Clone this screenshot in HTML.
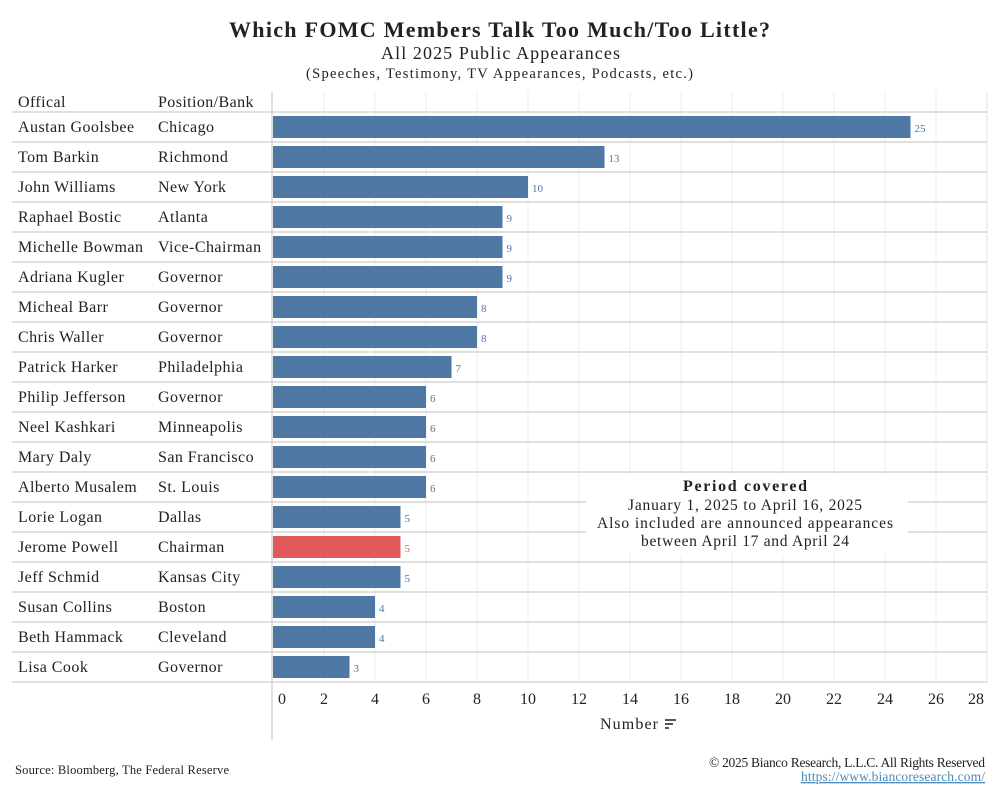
<!DOCTYPE html>
<html><head><meta charset="utf-8">
<style>
html,body{margin:0;padding:0;background:#fff;}
body{width:1000px;height:800px;overflow:hidden;font-family:"Liberation Serif",serif;color:#222;}
svg text{font-family:"Liberation Serif",serif;}
</style></head>
<body>
<svg id="chart" width="1000" height="800" viewBox="0 0 1000 800" xmlns="http://www.w3.org/2000/svg">
  <text x="229" y="37" font-size="22" font-weight="bold" fill="#222" textLength="541" lengthAdjust="spacing">Which FOMC Members Talk Too Much/Too Little?</text>
  <text x="381" y="59" font-size="18" fill="#222" textLength="239" lengthAdjust="spacing">All 2025 Public Appearances</text>
  <text x="306" y="78" font-size="14.5" fill="#222" textLength="387" lengthAdjust="spacing">(Speeches, Testimony, TV Appearances, Podcasts, etc.)</text>
  <text x="18" y="107" font-size="16" letter-spacing="0.4" fill="#222">Offical</text>
  <text x="158" y="107" font-size="16" letter-spacing="0.4" fill="#222">Position/Bank</text>
  <g id="grid"></g>
  <g id="rows"></g>
  <g id="bars"></g>
  <g id="xaxis"></g>
  <g>
    <rect x="586" y="474" width="322" height="80" fill="#fff"/>
    <text x="683" y="491" font-size="16" font-weight="bold" fill="#222" textLength="124" lengthAdjust="spacing">Period covered</text>
    <text x="628" y="510" font-size="15.5" fill="#222" textLength="234" lengthAdjust="spacing">January 1, 2025 to April 16, 2025</text>
    <text x="597" y="528" font-size="15.5" fill="#222" textLength="296" lengthAdjust="spacing">Also included are announced appearances</text>
    <text x="641" y="546" font-size="15.5" fill="#222" textLength="208" lengthAdjust="spacing">between April 17 and April 24</text>
  </g>
  <text x="600" y="729" font-size="16" fill="#222" textLength="58" lengthAdjust="spacing">Number</text>
  <g fill="#555">
    <rect x="665" y="719" width="11" height="2"/><rect x="665" y="723" width="8" height="2"/><rect x="665" y="727" width="4" height="2"/>
  </g>
  <text x="15" y="774" font-size="12.5" fill="#222" textLength="214" lengthAdjust="spacing">Source: Bloomberg, The Federal Reserve</text>
  <text x="709" y="767" font-size="13.5" fill="#222" textLength="276" lengthAdjust="spacing">© 2025 Bianco Research, L.L.C. All Rights Reserved</text>
  <text x="801" y="781" font-size="13.5" fill="#4a8ab8" text-decoration="underline" textLength="184" lengthAdjust="spacing">https://www.biancoresearch.com/</text>
</svg>
<script>
const officials = ["Austan Goolsbee","Tom Barkin","John Williams","Raphael Bostic","Michelle Bowman","Adriana Kugler","Micheal Barr","Chris Waller","Patrick Harker","Philip Jefferson","Neel Kashkari","Mary Daly","Alberto Musalem","Lorie Logan","Jerome Powell","Jeff Schmid","Susan Collins","Beth Hammack","Lisa Cook"];
const positions = ["Chicago","Richmond","New York","Atlanta","Vice-Chairman","Governor","Governor","Governor","Philadelphia","Governor","Minneapolis","San Francisco","St. Louis","Dallas","Chairman","Kansas City","Boston","Cleveland","Governor"];
const appearances = [25,13,10,9,9,9,8,8,7,6,6,6,6,5,5,5,4,4,3];
const xTicks = [0,2,4,6,8,10,12,14,16,18,20,22,24,26,28];

const NS = "http://www.w3.org/2000/svg";
const x0 = 273, unit = 25.5, rowTop = 112, rowH = 30;
const xScale = v => x0 + v * unit;
const yRow = i => rowTop + i * rowH;
function mk(tag, attrs, parent){ const e=document.createElementNS(NS,tag); for(const k in attrs) e.setAttribute(k,attrs[k]); parent.appendChild(e); return e; }

const grid = document.getElementById('grid');
const bottom = yRow(officials.length);
xTicks.forEach(t => {
  if (t === 0) return;
  const l = mk('line',{x1:xScale(t),x2:xScale(t),y1:92,y2:bottom,stroke:'#ececec','stroke-width':1},grid);
  
  
});
mk('line',{x1:987,x2:987,y1:92,y2:bottom,stroke:'#e4e4e4','stroke-width':1},grid);

const rows = document.getElementById('rows');
for (let i=0;i<=officials.length;i++){
  const l = mk('line',{x1:12,x2:987,y1:yRow(i),y2:yRow(i),stroke:'#cccccc','stroke-width':1.2},rows);
  
  
}
officials.forEach((n,i)=>{
  const t = mk('text',{x:18,y:yRow(i)+20,'font-size':16,'letter-spacing':0.45,fill:'#222'},rows);
  t.textContent = n;
  
  
  const p = mk('text',{x:158,y:yRow(i)+20,'font-size':16,'letter-spacing':0.45,fill:'#222'},rows);
  p.textContent = positions[i];
  
  
});

const bars = document.getElementById('bars');
appearances.forEach((v,i)=>{
  const isPowell = officials[i]==="Jerome Powell";
  const r = mk('rect',{x:xScale(0),y:yRow(i)+4,width:xScale(v)-xScale(0),height:22,fill:isPowell?'#e05a5a':'#4e77a3'},bars);
  
  
  const t = mk('text',{x:xScale(v)+4,y:yRow(i)+20,'font-size':11,fill:isPowell?'#e05a5a':'#4e77a3','font-family':'Liberation Sans, sans-serif'},bars);
  t.textContent = v;
  
  
});

const xa = document.getElementById('xaxis');
const ax = mk('line',{x1:272,x2:272,y1:92,y2:740,stroke:'#cccccc','stroke-width':1.2},xa);


xTicks.forEach((t,k)=>{
  const last = k===xTicks.length-1;
  const tx = mk('text',{x:t===0?xScale(t)+5:(last?xScale(t)-11:xScale(t)),y:704,'font-size':16,fill:'#222','text-anchor':t===0?'start':'middle'},xa);
  tx.textContent = t;
  
  
});
</script>
</body></html>
